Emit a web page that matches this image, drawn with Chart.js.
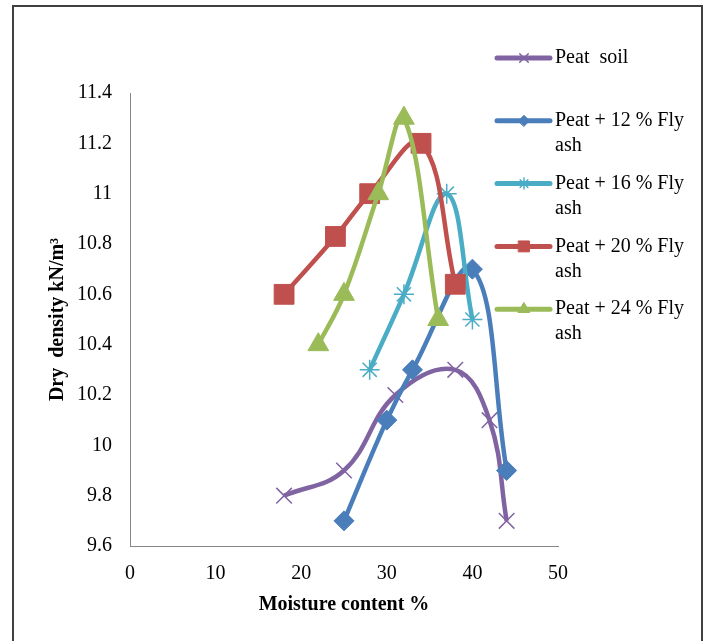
<!DOCTYPE html>
<html lang="en">
<head>
<meta charset="UTF-8">
<title>Dry density vs moisture content</title>
<script src="https://cdn.jsdelivr.net/npm/chart.js@4.4.0/dist/chart.umd.min.js"></script>
<style>
  body { margin: 0; background: #fff; }
  #wrap { position: relative; width: 708px; height: 641px; overflow: hidden; }
  #frame {
    position: absolute; left: 12px; top: 5px; width: 691px; height: 660px;
    border: 2px solid #404040; border-bottom: none; box-sizing: border-box;
  }
  #chart { position: absolute; left: 0; top: 0; }
</style>
</head>
<body>
<div id="wrap">
  <div id="frame"></div>
  <canvas id="chart" width="708" height="641"></canvas>
</div>
<script>
// values
const peatX = [18, 25, 31, 38, 42, 44];
const peatY = [9.8, 9.9, 10.2, 10.3, 10.1, 9.7];
const fa12X = [25, 30, 33, 40, 44];
const fa12Y = [9.7, 10.1, 10.3, 10.7, 9.9];
const fa16X = [28, 32, 37, 40];
const fa16Y = [10.3, 10.6, 11.0, 10.5];
const fa20X = [18, 24, 28, 34, 38];
const fa20Y = [10.6, 10.83, 11.0, 11.2, 10.64];
const fa24X = [22, 25, 29, 32, 36];
const fa24Y = [10.4, 10.6, 11.0, 11.3, 10.5];

const seriesNames = ['Peat  soil', 'Peat + 12 % Fly ash', 'Peat + 16 % Fly ash', 'Peat + 20 % Fly ash', 'Peat + 24 % Fly ash'];
const legendLines = [['Peat  soil'], ['Peat + 12 % Fly', 'ash'], ['Peat + 16 % Fly', 'ash'], ['Peat + 20 % Fly', 'ash'], ['Peat + 24 % Fly', 'ash']];
const xTicks = [0, 10, 20, 30, 40, 50];
const yTicks = [9.6, 9.8, 10, 10.2, 10.4, 10.6, 10.8, 11, 11.2, 11.4];

const colors = ['#8064A2', '#4A7EBB', '#4BACC6', '#C0504D', '#9BBB59'];
const markers = ['crossRot', 'rectRot', 'star', 'rect', 'triangle'];
const markerSize = [11, 10, 10, 14, 12];

function pts(xs, ys) {
  return xs.map((x, i) => ({x: x, y: ys[i]}));
}
const allData = [pts(peatX, peatY), pts(fa12X, fa12Y), pts(fa16X, fa16Y), pts(fa20X, fa20Y), pts(fa24X, fa24Y)];

const datasets = allData.map((d, i) => ({
  label: seriesNames[i],
  data: d,
  showLine: true,
  borderColor: colors[i],
  backgroundColor: colors[i],
  borderWidth: 4.5,
  tension: 0.4,
  pointStyle: markers[i],
  pointRadius: markerSize[i],
  pointBorderWidth: (i == 0 || i == 2) ? 1.5 : 1,
  pointBorderColor: colors[i],
  pointBackgroundColor: colors[i],
  order: 4 - i
}));

// legend on the right, labels wrap like in the original
const sideLegend = {
  id: 'sideLegend',
  afterDraw(chart) {
    const ctx = chart.ctx;
    ctx.save();
    chart.data.datasets.forEach((ds, i) => {
      const y = 58 + i * 62.8;
      ctx.strokeStyle = ds.borderColor;
      ctx.lineWidth = 5;
      ctx.lineCap = 'round';
      ctx.beginPath();
      ctx.moveTo(497, y);
      ctx.lineTo(550, y);
      ctx.stroke();
      ctx.fillStyle = ds.backgroundColor;
      ctx.lineWidth = ds.pointBorderWidth;
      Chart.helpers.drawPoint(ctx, {
        pointStyle: ds.pointStyle, radius: ds.pointRadius * 0.55,
        rotation: 0, borderWidth: ds.pointBorderWidth
      }, 524, y);
      ctx.fillStyle = '#000';
      ctx.font = '20px "Liberation Serif"';
      ctx.textBaseline = 'middle';
      ctx.textAlign = 'left';
      legendLines[i].forEach((t, k) => ctx.fillText(t, 555, y + k * 25));
    });
    ctx.restore();
  }
};

const tickFont = {family: 'Liberation Serif', size: 20};
const titleFont = {family: 'Liberation Serif', size: 20, weight: 'bold'};

new Chart('chart', {
  type: 'scatter',
  data: {datasets: datasets},
  options: {
    responsive: false,
    animation: false,
    layout: {padding: {top: 93, right: 150, bottom: 0, left: 0}},
    plugins: {legend: {display: false}, tooltip: {enabled: false}},
    scales: {
      x: {
        type: 'linear', min: 0, max: 50,
        grid: {display: false, drawTicks: false},
        border: {color: '#868686', width: 1},
        afterBuildTicks: s => { s.ticks = xTicks.map(v => ({value: v})); },
        afterFit: s => { s.height = 95; },
        ticks: {font: tickFont, color: '#000', padding: 16, callback: v => String(v)},
        title: {display: true, text: 'Moisture content %', font: titleFont, color: '#000', padding: {top: 0, bottom: 24}}
      },
      y: {
        type: 'linear', min: 9.6, max: 11.4,
        grid: {display: false, drawTicks: false},
        border: {color: '#868686', width: 1},
        afterBuildTicks: s => { s.ticks = yTicks.map(v => ({value: v})); },
        afterFit: s => { s.width = 130; },
        ticks: {font: tickFont, color: '#000', padding: 18, callback: v => String(v)},
        title: {display: true, text: 'Dry  density kN/m³', font: titleFont, color: '#000', padding: {top: 46, bottom: 0}}
      }
    }
  },
  plugins: [sideLegend]
});
</script>
</body>
</html>
